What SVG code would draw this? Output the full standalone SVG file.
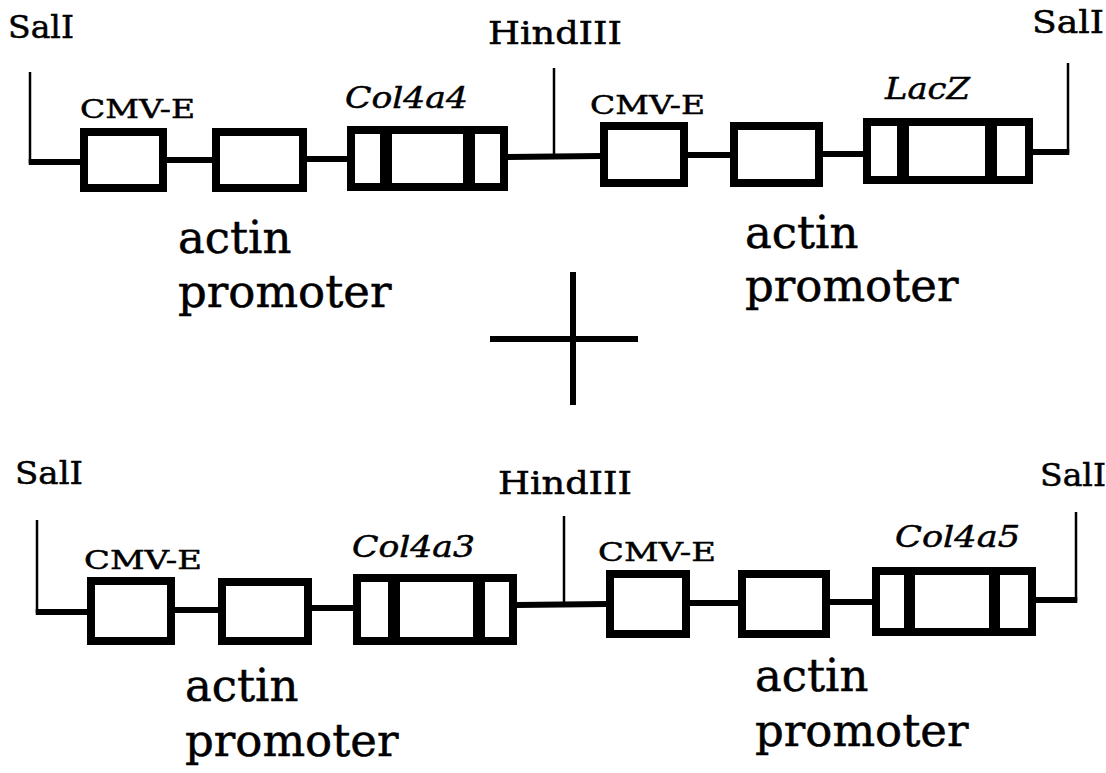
<svg xmlns="http://www.w3.org/2000/svg" width="1106" height="773" viewBox="0 0 1106 773">
<style>
.box{fill:#fff;stroke:#000;stroke-width:8}
.dv{fill:#000}
.bb{stroke:#000;stroke-width:6;fill:none}
.site{stroke:#000;stroke-width:2.5;fill:none}
.plus{stroke:#000;stroke-width:6;fill:none}
text{font-family:"DejaVu Serif","Liberation Serif",serif;fill:#000;stroke:#000;stroke-width:0.5}
.st{font-size:31px}
.cmv{font-size:26px}
.gene{font-size:30px;font-style:italic}
.prom{font-size:45px}
</style>
<rect width="1106" height="773" fill="#fff"/>
<g id="connectors">
  <line class="site" x1="30" y1="72" x2="30" y2="163"/>
  <line class="bb" x1="28.75" y1="162" x2="82" y2="162"/>
  <line class="bb" x1="167" y1="160" x2="212" y2="160"/>
  <line class="bb" x1="307" y1="159" x2="347" y2="159"/>
  <line class="bb" x1="508" y1="157" x2="600" y2="156"/>
  <line class="site" x1="554" y1="68" x2="554" y2="157"/>
  <line class="bb" x1="688" y1="155" x2="730" y2="155"/>
  <line class="bb" x1="823" y1="154" x2="863" y2="154"/>
  <line class="bb" x1="1033" y1="152" x2="1069.25" y2="152"/>
  <line class="site" x1="1068" y1="63" x2="1068" y2="153"/>

  <line class="site" x1="37" y1="520" x2="37" y2="613"/>
  <line class="bb" x1="35.75" y1="612" x2="89" y2="612"/>
  <line class="bb" x1="175" y1="610" x2="218" y2="610"/>
  <line class="bb" x1="312" y1="608" x2="353" y2="608"/>
  <line class="bb" x1="517" y1="605" x2="606" y2="604"/>
  <line class="site" x1="564" y1="516" x2="564" y2="605"/>
  <line class="bb" x1="690" y1="603" x2="738" y2="603"/>
  <line class="bb" x1="830" y1="602" x2="872" y2="602"/>
  <line class="bb" x1="1036" y1="600" x2="1077.25" y2="600"/>
  <line class="site" x1="1076" y1="512" x2="1076" y2="601"/>
</g>
<g id="plus">
  <line class="plus" x1="490" y1="339" x2="638" y2="339"/>
  <line class="plus" x1="573" y1="272" x2="573" y2="405"/>
</g>
<g id="top-labels">
  <text class="st" x="8" y="38" textLength="66" lengthAdjust="spacingAndGlyphs">SalI</text>
  <text class="st" x="488" y="44" textLength="134" lengthAdjust="spacingAndGlyphs">HindIII</text>
  <text class="st" x="1032" y="33" textLength="72" lengthAdjust="spacingAndGlyphs">SalI</text>
</g>
<g id="t-cmv1">
  <text class="cmv" x="80" y="118" textLength="115" lengthAdjust="spacingAndGlyphs">CMV-E</text>
  <rect class="box" x="84" y="132" width="79" height="56"/>
</g>
<g id="t-actin1">
  <rect class="box" x="216" y="132" width="87" height="56"/>
  <text class="prom" x="178" y="253">actin</text>
  <text class="prom" x="178" y="307">promoter</text>
</g>
<g id="t-col4a4">
  <text class="gene" x="345" y="108" textLength="123" lengthAdjust="spacingAndGlyphs">Col4a4</text>
  <rect class="box" x="351" y="130" width="153" height="57"/>
  <rect class="dv" x="380" y="130" width="12" height="57"/>
  <rect class="dv" x="463" y="130" width="12" height="57"/>
</g>
<g id="t-cmv2">
  <text class="cmv" x="590" y="114" textLength="115" lengthAdjust="spacingAndGlyphs">CMV-E</text>
  <rect class="box" x="604" y="126" width="80" height="57"/>
</g>
<g id="t-actin2">
  <rect class="box" x="734" y="126" width="85" height="57"/>
  <text class="prom" x="745" y="248">actin</text>
  <text class="prom" x="745" y="301">promoter</text>
</g>
<g id="t-lacz">
  <text class="gene" x="885" y="99" textLength="85" lengthAdjust="spacingAndGlyphs">LacZ</text>
  <rect class="box" x="867" y="122" width="162" height="58"/>
  <rect class="dv" x="897" y="122" width="12" height="58"/>
  <rect class="dv" x="985" y="122" width="12" height="58"/>
</g>
<g id="bottom-labels">
  <text class="st" x="15" y="484" textLength="68" lengthAdjust="spacingAndGlyphs">SalI</text>
  <text class="st" x="498" y="494" textLength="134" lengthAdjust="spacingAndGlyphs">HindIII</text>
  <text class="st" x="1040" y="486" textLength="66" lengthAdjust="spacingAndGlyphs">SalI</text>
</g>
<g id="b-cmv1">
  <text class="cmv" x="84" y="569" textLength="118" lengthAdjust="spacingAndGlyphs">CMV-E</text>
  <rect class="box" x="91" y="581" width="80" height="60"/>
</g>
<g id="b-actin1">
  <rect class="box" x="222" y="582" width="86" height="59"/>
  <text class="prom" x="185" y="701">actin</text>
  <text class="prom" x="185" y="756">promoter</text>
</g>
<g id="b-col4a3">
  <text class="gene" x="352" y="557" textLength="123" lengthAdjust="spacingAndGlyphs">Col4a3</text>
  <rect class="box" x="357" y="578" width="156" height="63"/>
  <rect class="dv" x="388" y="578" width="12" height="63"/>
  <rect class="dv" x="473" y="578" width="12" height="63"/>
</g>
<g id="b-cmv2">
  <text class="cmv" x="598" y="561" textLength="118" lengthAdjust="spacingAndGlyphs">CMV-E</text>
  <rect class="box" x="610" y="574" width="76" height="60"/>
</g>
<g id="b-actin2">
  <rect class="box" x="742" y="574" width="84" height="60"/>
  <text class="prom" x="755" y="691">actin</text>
  <text class="prom" x="755" y="746">promoter</text>
</g>
<g id="b-col4a5">
  <text class="gene" x="895" y="547" textLength="125" lengthAdjust="spacingAndGlyphs">Col4a5</text>
  <rect class="box" x="876" y="571" width="156" height="61"/>
  <rect class="dv" x="904" y="571" width="11" height="61"/>
  <rect class="dv" x="989" y="571" width="11" height="61"/>
</g>
</svg>
